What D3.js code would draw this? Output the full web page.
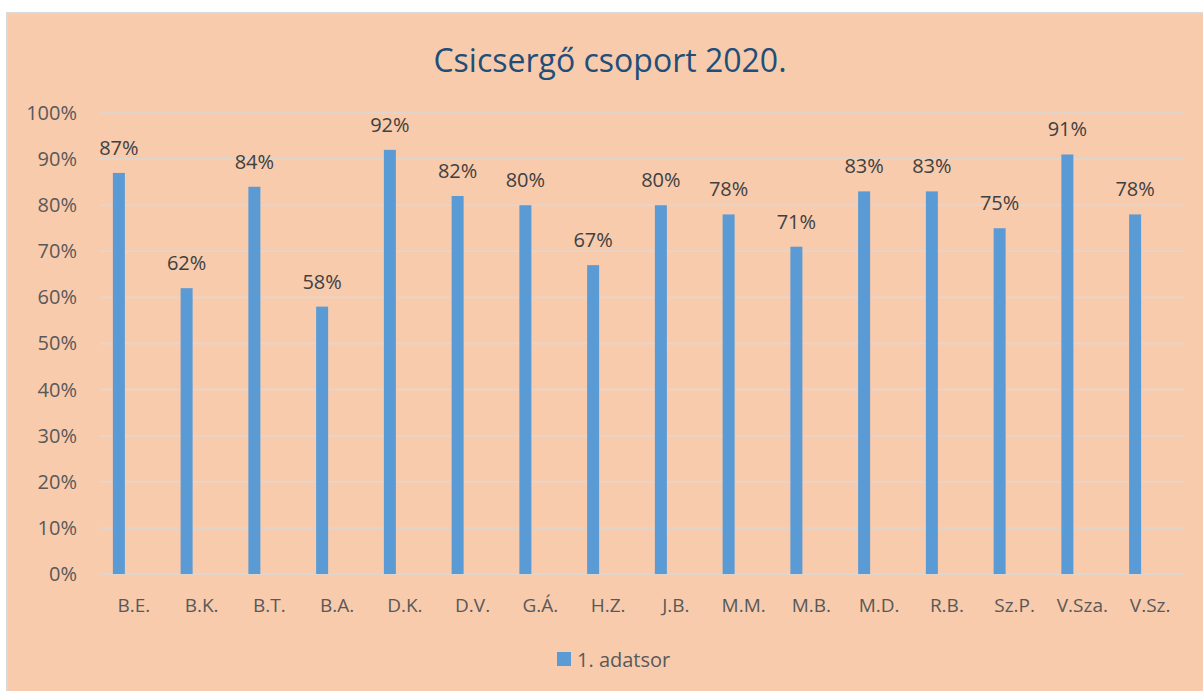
<!DOCTYPE html>
<html>
<head>
<meta charset="utf-8">
<script src="https://cdn.jsdelivr.net/npm/d3@7"></script>
<style>
  body { margin: 0; background: #fff; }
  svg { display: block; }
  text { font-family: "Open Sans", "Noto Sans", sans-serif; }
</style>
</head>
<body>
<div id="chart"></div>
<script>
// chart data
var names = ["B.E.", "B.K.", "B.T.", "B.A.", "D.K.", "D.V.", "G.Á.", "H.Z.", "J.B.", "M.M.", "M.B.", "M.D.", "R.B.", "Sz.P.", "V.Sza.", "V.Sz."];
var values = [0.87, 0.62, 0.84, 0.58, 0.92, 0.82, 0.80, 0.67, 0.80, 0.78, 0.71, 0.83, 0.83, 0.75, 0.91, 0.78];
var yTicks = [0, 0.1, 0.2, 0.3, 0.4, 0.5, 0.6, 0.7, 0.8, 0.9, 1.0];
var seriesName = "1. adatsor";
var title = "Csicsergő csoport 2020.";

var w = 1203;
var h = 691;
var plotLeft = 100, plotRight = 1184;
var plotTop = 113, plotBottom = 574;
var barShift = -15;   // bars sit left of their category centre

var svg = d3.select("#chart")
            .append("svg")
            .attr("width", w)
            .attr("height", h);

// background panel
svg.append("rect")
   .attr("x", 7)
   .attr("y", 13)
   .attr("width", w)
   .attr("height", h)
   .style("fill", "#F8CBAD")
   .style("stroke", "#D9D9D9")
   .style("stroke-width", 2);

svg.append("text")
   .attr("x", 610)
   .attr("y", 72)
   .attr("text-anchor", "middle")
   .style("font-size", "32px")
   .style("fill", "#1F4E79")
   .text(title);

var x = d3.scaleBand()
          .domain(names)
          .range([plotLeft, plotRight]);

var y = d3.scaleLinear()
          .domain([0, 1])
          .range([plotBottom, plotTop]);

// gridlines
svg.append("g")
   .selectAll("line")
   .data(yTicks)
   .enter()
   .append("line")
   .attr("x1", plotLeft)
   .attr("x2", plotRight)
   .attr("y1", function(d) { return y(d); })
   .attr("y2", function(d) { return y(d); })
   .style("stroke", "#D9D9D9")
   .style("stroke-width", 1.5);

// y axis labels
var yAxis = d3.axisLeft(y)
              .tickValues(yTicks)
              .tickFormat(d3.format(".0%"))
              .tickSize(0)
              .tickPadding(23);

var yg = svg.append("g")
            .attr("transform", "translate(" + plotLeft + ",0)")
            .call(yAxis);
yg.select(".domain").remove();
yg.selectAll("text")
  .style("font-size", "20px")
  .style("fill", "#595959");

// x axis labels
var xAxis = d3.axisBottom(x)
              .tickSize(0)
              .tickPadding(25);

var xg = svg.append("g")
            .attr("transform", "translate(0," + plotBottom + ")")
            .call(xAxis);
xg.select(".domain").remove();
xg.selectAll("text")
  .style("font-size", "19px")
  .style("fill", "#595959");

var barW = 12;
var barX = function(i) { return x(names[i]) + x.bandwidth() / 2 + barShift; };

svg.selectAll("rect.bar")
   .data(values)
   .enter()
   .append("rect")
   .attr("class", "bar")
   .attr("x", function(d, i) { return barX(i) - barW / 2; })
   .attr("y", function(d) { return y(d); })
   .attr("width", barW)
   .attr("height", function(d) { return y(0) - y(d); })
   .style("fill", "#5B9BD5");

svg.selectAll("text.lbl")
   .data(values)
   .enter()
   .append("text")
   .attr("class", "lbl")
   .attr("x", function(d, i) { return barX(i); })
   .attr("y", function(d) { return y(d) - 18; })
   .attr("text-anchor", "middle")
   .style("font-size", "20px")
   .style("fill", "#404040")
   .text(function(d) { return Math.round(d * 100) + "%"; });

// legend
var legend = svg.append("g")
                .attr("transform", "translate(557,659)");
legend.append("rect")
      .attr("x", 0)
      .attr("y", -7)
      .attr("width", 14)
      .attr("height", 14)
      .style("fill", "#5B9BD5");
legend.append("text")
      .attr("x", 20)
      .attr("y", 8)
      .style("font-size", "20px")
      .style("fill", "#595959")
      .text(seriesName);
</script>
</body>
</html>
